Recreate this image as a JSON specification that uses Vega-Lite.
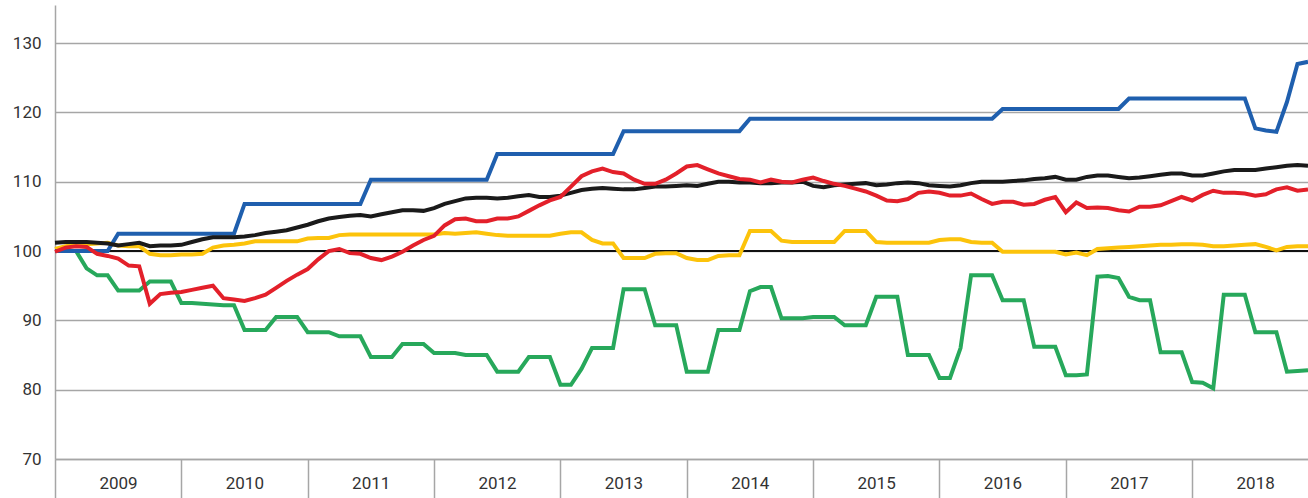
{
  "$schema": "https://vega.github.io/schema/vega-lite/v6.json",
  "width": 1253,
  "height": 454,
  "autosize": {"type": "none"},
  "padding": {"left": 55, "top": 5, "right": 0, "bottom": 39},
  "background": "white",
  "config": {
    "view": {"stroke": null},
    "font": "Roboto"
  },
  "data": {"values": [
    {"m":0,"blue":100,"black":101.2,"red":99.9,"yellow":100.3,"green":100},
    {"m":1,"blue":100,"black":101.3,"red":100.5,"yellow":100.7,"green":100},
    {"m":2,"blue":100,"black":101.3,"red":100.7,"yellow":100.9,"green":100},
    {"m":3,"blue":100,"black":101.3,"red":100.6,"yellow":101.0,"green":97.5},
    {"m":4,"blue":100,"black":101.2,"red":99.6,"yellow":101.1,"green":96.5},
    {"m":5,"blue":100,"black":101.1,"red":99.3,"yellow":101.2,"green":96.5},
    {"m":6,"blue":102.5,"black":100.8,"red":98.9,"yellow":100.8,"green":94.3},
    {"m":7,"blue":102.5,"black":101.0,"red":97.9,"yellow":100.7,"green":94.3},
    {"m":8,"blue":102.5,"black":101.2,"red":97.8,"yellow":100.7,"green":94.3},
    {"m":9,"blue":102.5,"black":100.7,"red":92.4,"yellow":99.6,"green":95.6},
    {"m":10,"blue":102.5,"black":100.8,"red":93.8,"yellow":99.4,"green":95.6},
    {"m":11,"blue":102.5,"black":100.8,"red":94.0,"yellow":99.4,"green":95.6},
    {"m":12,"blue":102.5,"black":100.9,"red":94.1,"yellow":99.5,"green":92.5},
    {"m":13,"blue":102.5,"black":101.3,"red":94.4,"yellow":99.5,"green":92.5},
    {"m":14,"blue":102.5,"black":101.7,"red":94.7,"yellow":99.6,"green":92.4},
    {"m":15,"blue":102.5,"black":102.0,"red":95.0,"yellow":100.5,"green":92.3},
    {"m":16,"blue":102.5,"black":102.0,"red":93.2,"yellow":100.8,"green":92.2},
    {"m":17,"blue":102.5,"black":102.0,"red":93.0,"yellow":100.9,"green":92.2},
    {"m":18,"blue":106.8,"black":102.1,"red":92.8,"yellow":101.1,"green":88.6},
    {"m":19,"blue":106.8,"black":102.3,"red":93.2,"yellow":101.4,"green":88.6},
    {"m":20,"blue":106.8,"black":102.6,"red":93.7,"yellow":101.4,"green":88.6},
    {"m":21,"blue":106.8,"black":102.8,"red":94.7,"yellow":101.4,"green":90.5},
    {"m":22,"blue":106.8,"black":103.0,"red":95.7,"yellow":101.4,"green":90.5},
    {"m":23,"blue":106.8,"black":103.4,"red":96.6,"yellow":101.4,"green":90.5},
    {"m":24,"blue":106.8,"black":103.8,"red":97.4,"yellow":101.8,"green":88.3},
    {"m":25,"blue":106.8,"black":104.3,"red":98.8,"yellow":101.9,"green":88.3},
    {"m":26,"blue":106.8,"black":104.7,"red":100.0,"yellow":101.9,"green":88.3},
    {"m":27,"blue":106.8,"black":104.9,"red":100.3,"yellow":102.3,"green":87.7},
    {"m":28,"blue":106.8,"black":105.1,"red":99.7,"yellow":102.4,"green":87.7},
    {"m":29,"blue":106.8,"black":105.2,"red":99.6,"yellow":102.4,"green":87.7},
    {"m":30,"blue":110.3,"black":105.0,"red":99.0,"yellow":102.4,"green":84.7},
    {"m":31,"blue":110.3,"black":105.3,"red":98.7,"yellow":102.4,"green":84.7},
    {"m":32,"blue":110.3,"black":105.6,"red":99.2,"yellow":102.4,"green":84.7},
    {"m":33,"blue":110.3,"black":105.9,"red":99.9,"yellow":102.4,"green":86.6},
    {"m":34,"blue":110.3,"black":105.9,"red":100.8,"yellow":102.4,"green":86.6},
    {"m":35,"blue":110.3,"black":105.8,"red":101.6,"yellow":102.4,"green":86.6},
    {"m":36,"blue":110.3,"black":106.2,"red":102.2,"yellow":102.4,"green":85.3},
    {"m":37,"blue":110.3,"black":106.8,"red":103.7,"yellow":102.6,"green":85.3},
    {"m":38,"blue":110.3,"black":107.2,"red":104.6,"yellow":102.5,"green":85.3},
    {"m":39,"blue":110.3,"black":107.6,"red":104.7,"yellow":102.6,"green":85.0},
    {"m":40,"blue":110.3,"black":107.7,"red":104.3,"yellow":102.7,"green":85.0},
    {"m":41,"blue":110.3,"black":107.7,"red":104.3,"yellow":102.5,"green":85.0},
    {"m":42,"blue":114.0,"black":107.6,"red":104.7,"yellow":102.3,"green":82.6},
    {"m":43,"blue":114.0,"black":107.7,"red":104.7,"yellow":102.2,"green":82.6},
    {"m":44,"blue":114.0,"black":107.9,"red":105.0,"yellow":102.2,"green":82.6},
    {"m":45,"blue":114.0,"black":108.1,"red":105.8,"yellow":102.2,"green":84.7},
    {"m":46,"blue":114.0,"black":107.8,"red":106.6,"yellow":102.2,"green":84.7},
    {"m":47,"blue":114.0,"black":107.8,"red":107.3,"yellow":102.2,"green":84.7},
    {"m":48,"blue":114.0,"black":108.0,"red":107.8,"yellow":102.5,"green":80.7},
    {"m":49,"blue":114.0,"black":108.4,"red":109.3,"yellow":102.7,"green":80.7},
    {"m":50,"blue":114.0,"black":108.8,"red":110.8,"yellow":102.7,"green":83.0},
    {"m":51,"blue":114.0,"black":109.0,"red":111.5,"yellow":101.6,"green":86.0},
    {"m":52,"blue":114.0,"black":109.1,"red":111.9,"yellow":101.1,"green":86.0},
    {"m":53,"blue":114.0,"black":109.0,"red":111.4,"yellow":101.1,"green":86.0},
    {"m":54,"blue":117.3,"black":108.9,"red":111.2,"yellow":99.0,"green":94.5},
    {"m":55,"blue":117.3,"black":108.9,"red":110.3,"yellow":99.0,"green":94.5},
    {"m":56,"blue":117.3,"black":109.1,"red":109.7,"yellow":99.0,"green":94.5},
    {"m":57,"blue":117.3,"black":109.3,"red":109.7,"yellow":99.6,"green":89.3},
    {"m":58,"blue":117.3,"black":109.3,"red":110.3,"yellow":99.7,"green":89.3},
    {"m":59,"blue":117.3,"black":109.4,"red":111.2,"yellow":99.7,"green":89.3},
    {"m":60,"blue":117.3,"black":109.5,"red":112.2,"yellow":99.0,"green":82.6},
    {"m":61,"blue":117.3,"black":109.4,"red":112.4,"yellow":98.7,"green":82.6},
    {"m":62,"blue":117.3,"black":109.7,"red":111.8,"yellow":98.7,"green":82.6},
    {"m":63,"blue":117.3,"black":110.0,"red":111.2,"yellow":99.3,"green":88.6},
    {"m":64,"blue":117.3,"black":110.0,"red":110.8,"yellow":99.4,"green":88.6},
    {"m":65,"blue":117.3,"black":109.9,"red":110.4,"yellow":99.4,"green":88.6},
    {"m":66,"blue":119.1,"black":109.9,"red":110.3,"yellow":102.9,"green":94.2},
    {"m":67,"blue":119.1,"black":109.8,"red":109.9,"yellow":102.9,"green":94.8},
    {"m":68,"blue":119.1,"black":109.8,"red":110.3,"yellow":102.9,"green":94.8},
    {"m":69,"blue":119.1,"black":109.9,"red":110.0,"yellow":101.5,"green":90.3},
    {"m":70,"blue":119.1,"black":109.9,"red":109.9,"yellow":101.3,"green":90.3},
    {"m":71,"blue":119.1,"black":110.0,"red":110.3,"yellow":101.3,"green":90.3},
    {"m":72,"blue":119.1,"black":109.4,"red":110.6,"yellow":101.3,"green":90.5},
    {"m":73,"blue":119.1,"black":109.2,"red":110.1,"yellow":101.3,"green":90.5},
    {"m":74,"blue":119.1,"black":109.5,"red":109.7,"yellow":101.3,"green":90.5},
    {"m":75,"blue":119.1,"black":109.6,"red":109.4,"yellow":102.9,"green":89.3},
    {"m":76,"blue":119.1,"black":109.7,"red":109.0,"yellow":102.9,"green":89.3},
    {"m":77,"blue":119.1,"black":109.8,"red":108.6,"yellow":102.9,"green":89.3},
    {"m":78,"blue":119.1,"black":109.5,"red":108.0,"yellow":101.3,"green":93.4},
    {"m":79,"blue":119.1,"black":109.6,"red":107.3,"yellow":101.2,"green":93.4},
    {"m":80,"blue":119.1,"black":109.8,"red":107.2,"yellow":101.2,"green":93.4},
    {"m":81,"blue":119.1,"black":109.9,"red":107.5,"yellow":101.2,"green":85.0},
    {"m":82,"blue":119.1,"black":109.8,"red":108.4,"yellow":101.2,"green":85.0},
    {"m":83,"blue":119.1,"black":109.5,"red":108.6,"yellow":101.2,"green":85.0},
    {"m":84,"blue":119.1,"black":109.4,"red":108.4,"yellow":101.6,"green":81.7},
    {"m":85,"blue":119.1,"black":109.3,"red":108.0,"yellow":101.7,"green":81.7},
    {"m":86,"blue":119.1,"black":109.5,"red":108.0,"yellow":101.7,"green":86.0},
    {"m":87,"blue":119.1,"black":109.8,"red":108.3,"yellow":101.3,"green":96.5},
    {"m":88,"blue":119.1,"black":110.0,"red":107.5,"yellow":101.2,"green":96.5},
    {"m":89,"blue":119.1,"black":110.0,"red":106.8,"yellow":101.2,"green":96.5},
    {"m":90,"blue":120.5,"black":110.0,"red":107.1,"yellow":99.9,"green":92.9},
    {"m":91,"blue":120.5,"black":110.1,"red":107.1,"yellow":99.9,"green":92.9},
    {"m":92,"blue":120.5,"black":110.2,"red":106.7,"yellow":99.9,"green":92.9},
    {"m":93,"blue":120.5,"black":110.4,"red":106.8,"yellow":99.9,"green":86.2},
    {"m":94,"blue":120.5,"black":110.5,"red":107.4,"yellow":99.9,"green":86.2},
    {"m":95,"blue":120.5,"black":110.7,"red":107.8,"yellow":99.9,"green":86.2},
    {"m":96,"blue":120.5,"black":110.3,"red":105.6,"yellow":99.5,"green":82.1},
    {"m":97,"blue":120.5,"black":110.3,"red":107.0,"yellow":99.8,"green":82.1},
    {"m":98,"blue":120.5,"black":110.7,"red":106.2,"yellow":99.4,"green":82.2},
    {"m":99,"blue":120.5,"black":110.9,"red":106.3,"yellow":100.3,"green":96.3},
    {"m":100,"blue":120.5,"black":110.9,"red":106.2,"yellow":100.4,"green":96.4},
    {"m":101,"blue":120.5,"black":110.7,"red":105.9,"yellow":100.5,"green":96.1},
    {"m":102,"blue":122.0,"black":110.5,"red":105.7,"yellow":100.6,"green":93.4},
    {"m":103,"blue":122.0,"black":110.6,"red":106.4,"yellow":100.7,"green":92.9},
    {"m":104,"blue":122.0,"black":110.8,"red":106.4,"yellow":100.8,"green":92.9},
    {"m":105,"blue":122.0,"black":111.0,"red":106.6,"yellow":100.9,"green":85.4},
    {"m":106,"blue":122.0,"black":111.2,"red":107.2,"yellow":100.9,"green":85.4},
    {"m":107,"blue":122.0,"black":111.2,"red":107.8,"yellow":101.0,"green":85.4},
    {"m":108,"blue":122.0,"black":110.9,"red":107.3,"yellow":101.0,"green":81.1},
    {"m":109,"blue":122.0,"black":110.9,"red":108.1,"yellow":100.9,"green":81.0},
    {"m":110,"blue":122.0,"black":111.2,"red":108.7,"yellow":100.7,"green":80.2},
    {"m":111,"blue":122.0,"black":111.5,"red":108.4,"yellow":100.7,"green":93.7},
    {"m":112,"blue":122.0,"black":111.7,"red":108.4,"yellow":100.8,"green":93.7},
    {"m":113,"blue":122.0,"black":111.7,"red":108.3,"yellow":100.9,"green":93.7},
    {"m":114,"blue":117.7,"black":111.7,"red":108.0,"yellow":101.0,"green":88.3},
    {"m":115,"blue":117.4,"black":111.9,"red":108.2,"yellow":100.6,"green":88.3},
    {"m":116,"blue":117.2,"black":112.1,"red":108.9,"yellow":100.1,"green":88.3},
    {"m":117,"blue":121.5,"black":112.3,"red":109.2,"yellow":100.6,"green":82.6},
    {"m":118,"blue":127.0,"black":112.4,"red":108.7,"yellow":100.7,"green":82.7},
    {"m":119,"blue":127.3,"black":112.3,"red":108.9,"yellow":100.7,"green":82.8}
  ]},
  "layer": [
    {
      "mark": {"type": "rule", "color": "#111111", "strokeWidth": 2},
      "encoding": {
        "y": {
          "datum": 100,
          "type": "quantitative",
          "scale": {"domain": [70, 135.5], "nice": false, "zero": false},
          "axis": {
            "values": [70, 80, 90, 100, 110, 120, 130],
            "title": null,
            "ticks": false,
            "tickSize": 0,
            "labelPadding": 14,
            "labelFontSize": 17,
            "labelColor": "#333333",
            "labelFont": "Roboto",
            "domainColor": "#a6a6a6",
            "domainWidth": 1.5,
            "grid": true,
            "gridColor": "#a6a6a6",
            "gridWidth": 1.5
          }
        }
      }
    },
    {
      "mark": {"type": "line", "color": "#27a85b", "strokeWidth": 4},
      "encoding": {
        "x": {
          "field": "m",
          "type": "quantitative",
          "scale": {"domain": [0, 119], "nice": false, "zero": false},
          "axis": {
            "values": [0, 12, 24, 36, 48, 60, 72, 84, 96, 108],
            "labelExpr": "'' + round(2009 + datum.value / 12)",
            "title": null,
            "grid": false,
            "ticks": true,
            "tickSize": 39,
            "tickColor": "#a6a6a6",
            "tickWidth": 1.5,
            "domainColor": "#a6a6a6",
            "domainWidth": 1.5,
            "labelAlign": "center",
            "labelBaseline": "middle",
            "labelOffset": 63,
            "labelPadding": -15,
            "labelFontSize": 17,
            "labelColor": "#333333",
            "labelFont": "Roboto",
            "labelOverlap": false,
            "labelFlush": false,
            "labelBound": false
          }
        },
        "y": {"field": "green", "type": "quantitative", "scale": {"domain": [70, 135.5], "nice": false, "zero": false}}
      }
    },
    {
      "mark": {"type": "line", "color": "#fcc30b", "strokeWidth": 4},
      "encoding": {
        "x": {"field": "m", "type": "quantitative"},
        "y": {"field": "yellow", "type": "quantitative"}
      }
    },
    {
      "mark": {"type": "line", "color": "#1f5fae", "strokeWidth": 4},
      "encoding": {
        "x": {"field": "m", "type": "quantitative"},
        "y": {"field": "blue", "type": "quantitative"}
      }
    },
    {
      "mark": {"type": "line", "color": "#1a1a1a", "strokeWidth": 4},
      "encoding": {
        "x": {"field": "m", "type": "quantitative"},
        "y": {"field": "black", "type": "quantitative"}
      }
    },
    {
      "mark": {"type": "line", "color": "#e3202a", "strokeWidth": 4},
      "encoding": {
        "x": {"field": "m", "type": "quantitative"},
        "y": {"field": "red", "type": "quantitative"}
      }
    }
  ]
}
